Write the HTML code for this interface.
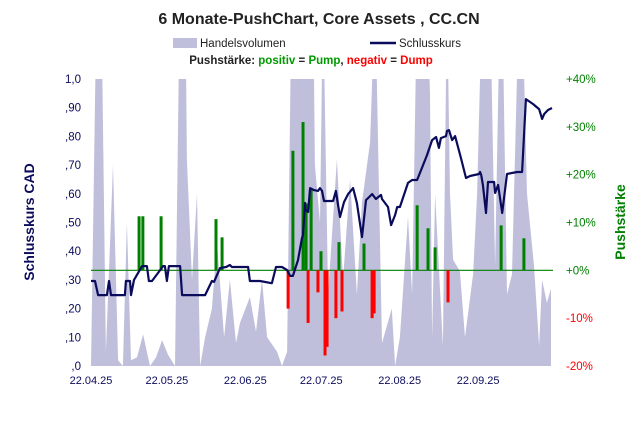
<!DOCTYPE html>
<html><head><meta charset="utf-8"><style>
body{margin:0;background:#fff;width:638px;height:428px;overflow:hidden;font-family:"Liberation Sans",Arial,sans-serif}
svg text{font-family:"Liberation Sans",Arial,sans-serif}
</style></head><body>
<svg id="c" width="638" height="428" xmlns="http://www.w3.org/2000/svg">
<defs><clipPath id="pc"><rect x="91" y="79" width="461" height="287"/></clipPath></defs>
<text x="319" y="24" text-anchor="middle" font-size="16" font-weight="bold" fill="#222">6 Monate-PushChart, Core Assets , CC.CN</text>
<rect x="173" y="38" width="24" height="10" fill="#bfbfdc"/>
<text x="200" y="47" font-size="11.5" fill="#222">Handelsvolumen</text>
<line x1="370" y1="43" x2="396" y2="43" stroke="#0b0b5c" stroke-width="2.5"/>
<text x="399" y="47" font-size="11.5" fill="#222">Schlusskurs</text>
<text x="311" y="64" text-anchor="middle" font-size="11.5" font-weight="bold" fill="#222">Pushstärke: <tspan fill="#009900">positiv</tspan> = <tspan fill="#009900">Pump</tspan>, <tspan fill="#ff0000">negativ</tspan> = <tspan fill="#ff0000">Dump</tspan></text>
<text transform="translate(34,222) rotate(-90)" text-anchor="middle" font-size="14" font-weight="bold" fill="#0b0b5c">Schlusskurs CAD</text>
<text transform="translate(625,222) rotate(-90)" text-anchor="middle" font-size="14" font-weight="bold" fill="#008000">Pushstärke</text>
<g id="vol" clip-path="url(#pc)"></g>
<g id="bars"></g>
<g id="line"></g>
<g id="axes"></g>
</svg>
<script>
const volDays=[0,2.4,3.9,5.9,8.7,10.7,12.6,14.2,15.8,18.2,20.6,23.3,25.7,28.1,30.4,33.2,35.2,37.2,37.9,39.9,41.9,43.1,45.1,47.8,49.8,52.6,54.9,57.3,58.9,62.8,65.2,67.6,69.6,73.5,75.5,77.5,79.4,87.7,88.5,90.5,91.7,93.7,97.2,99.6,102.4,105.1,107.1,110.3,112.3,115,118.9,120.2,122.1,125.3,126.9,128.9,132.8,134,134.8,136,139.1,140.7,141.9,143.1,145.8,147.8,151,152.6,154.6,157.7,159.7,161.7,162.5,164.4,166.4,169.2,170.4,172.3,175.1,177.1,178.3,180.2,181.8];
const volValues=[0,1.4,1.4,.05,.7,.02,0,.5,.02,.03,.11,0,.03,.09,.04,0,1.4,1.4,.72,.3,.6,0,.1,.2,.43,.1,.3,.08,.15,.24,.12,.3,.1,.05,0,.05,1.4,1.4,.7,.5,1.3,.25,.72,.3,.65,.25,.57,.78,1.3,.08,.2,0,.1,.52,.25,1.3,1.3,.95,.1,.6,.07,1.3,.6,.37,.33,.1,.32,.6,1.3,1.3,.35,1.3,1.3,.25,.32,1.3,1.3,.6,.35,.07,.3,.22,.27];
const priceDays=[0,1.6,2.8,6.3,7.1,7.9,13.4,13.8,15.4,15.8,17,20.2,22.1,22.9,24.1,28.5,29.2,30,30.8,35.2,36,45.1,47.8,48.6,51,53.4,54.9,55.7,62.1,62.8,66.8,71.1,71.5,73.1,75.5,77.5,78.7,79.8,81.8,83.4,83.8,84.6,84.8,85.8,86.6,88.1,89.7,90.5,91.3,92.1,95.7,96.8,97.6,98.4,100,101.6,103.6,105.1,107.1,108.7,111.1,112.6,114.6,115,117.4,118.6,120.2,121,122.1,125.3,126.9,128.9,130.8,132.8,134.8,136.4,137.5,138.3,140.3,140.7,141.5,142.7,143.9,146.2,148.2,149.8,153.4,153.8,154.2,154.9,156.1,156.9,159.3,159.7,160.9,162.5,164.4,168.4,170.4,171.9,174.7,177.1,178.3,179.1,180.6,182.2];
const priceValues=[.296,.296,.247,.247,.296,.247,.247,.296,.296,.247,.30,.348,.348,.296,.296,.348,.348,.296,.348,.348,.247,.247,.296,.293,.341,.345,.352,.345,.345,.296,.296,.289,.289,.345,.345,.334,.314,.314,.369,.446,.456,.568,.544,.537,.620,.613,.610,.620,.610,.575,.575,.610,.564,.519,.571,.599,.620,.568,.449,.578,.599,.582,.596,.582,.554,.491,.526,.554,.554,.638,.648,.648,.690,.735,.787,.798,.760,.794,.801,.819,.822,.787,.801,.725,.655,.662,.669,.676,.666,.631,.533,.641,.641,.603,.631,.533,.669,.676,.676,.930,.913,.895,.861,.878,.892,.899];
const pushDays=[19,20.5,27.7,49.4,51.8,77.9,79.8,83.8,85,85.8,87,89.7,90.9,92.5,93.3,96.8,98,99.2,107.9,111.1,111.9,128.9,133.2,136,141.1,162.1,171.1];
const pushValues=[11.3,11.3,11.3,10.7,6.9,-8,25,31,14,-11,17,-4.6,4,-17.8,-16,-10,5.9,-8.6,5.6,-10,-9,13.6,8.8,4.8,-6.7,9.4,6.7];
const xTickLabels=["22.04.25","22.05.25","22.06.25","22.07.25","22.08.25","22.09.25"];
const xTickDays=[0,30,61,91,122,153];
const yTickLabels=["1,0",",90",",80",",70",",60",",50",",40",",30",",20",",10",",0"];
const y2TickValues=[40,30,20,10,0,-10,-20];

const X0=91,X1=552,Y0=366,Y1=79,DMAX=182.2;
const sx=d=>X0+d*(X1-X0)/DMAX;
const sy=v=>Y0-v*(Y0-Y1);
const sp=p=>Y0-(p+20)/60*(Y0-Y1);
const NS="http://www.w3.org/2000/svg";
function mk(tag,attrs,parent,txt){const e=document.createElementNS(NS,tag);for(const k in attrs)e.setAttribute(k,attrs[k]);if(txt!=null)e.textContent=txt;parent.appendChild(e);return e;}

// volume
let d="M"+sx(volDays[0])+","+Y0;
volDays.forEach((v,i)=>{d+=" L"+sx(v).toFixed(1)+","+sy(volValues[i]).toFixed(1);});
d+=" L"+sx(volDays[volDays.length-1])+","+Y0+" Z";
const va=mk("path",{d:d,fill:"#bfbfdc"},document.getElementById("vol"));



// zero line
const zl=mk("line",{x1:X0,x2:X1+1,y1:sp(0),y2:sp(0),stroke:"#008000","stroke-width":1.2},document.getElementById("bars"));



pushDays.forEach((pd,i)=>{
  const p=pushValues[i];const y=Math.min(sp(0),sp(p));const h=Math.abs(sp(p)-sp(0));
  const b=mk("rect",{x:sx(pd)-1.5,y:y,width:3,height:h,fill:p>=0?"#008000":"#ff0000"},document.getElementById("bars"));
  
  
});

let ld="";
priceDays.forEach((pd,i)=>{ld+=(i?" L":"M")+sx(pd).toFixed(1)+","+sy(priceValues[i]).toFixed(1);});
const pl=mk("path",{d:ld,fill:"none",stroke:"#0b0b5c","stroke-width":2.2,"stroke-linejoin":"round"},document.getElementById("line"));



const ax=document.getElementById("axes");
yTickLabels.forEach((t,i)=>{
  const e=mk("text",{x:81,y:sy(1-i*0.1)+4,"text-anchor":"end","font-size":11.5,fill:"#0b0b5c"},ax,t);
  
  
});
y2TickValues.forEach(v=>{
  const e=mk("text",{x:566,y:sp(v)+4,"font-size":11.5,fill:v<0?"#ff0000":"#008000"},ax,(v>=0?"+":"")+v+"%");
  
  
});
xTickLabels.forEach((t,i)=>{
  const e=mk("text",{x:sx(xTickDays[i]),y:384,"text-anchor":"middle","font-size":11,fill:"#0b0b5c"},ax,t);
  
  
});
</script>
</body></html>
